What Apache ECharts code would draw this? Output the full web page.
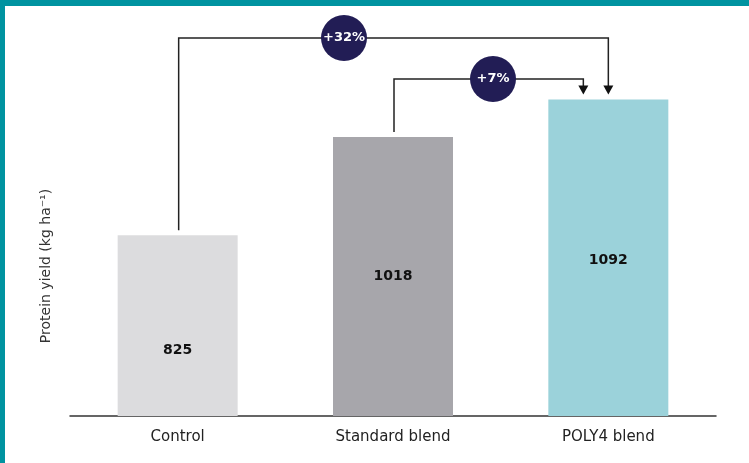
<!DOCTYPE html>
<html>
<head>
<meta charset="utf-8">
<script src="https://cdn.jsdelivr.net/npm/echarts@6/dist/echarts.min.js"></script>
<style>
html, body { margin: 0; padding: 0; background: #fff; }
#chart { width: 749px; height: 463px; }
</style>
</head>
<body>
<div id="chart"></div>
<script>
const categories = ['Control', 'Standard blend', 'POLY4 blend'];
const yieldValues = [825, 1018, 1092];
const barColors = ['#dcdcde', '#a7a6ab', '#9bd2da'];
const increases = [
  { from: 0, to: 2, text: '+32%' },
  { from: 1, to: 2, text: '+7%' }
];

const chartDom = document.getElementById('chart');
const myChart = echarts.init(chartDom);

const option = {
  animation: false,
  grid: { left: 70, right: 33, top: 19, bottom: 47 },
  xAxis: {
    type: 'category',
    data: categories,
    axisTick: { show: false },
    axisLine: { lineStyle: { color: '#333', width: 1.5 } },
    axisLabel: { color: '#222', fontSize: 15, fontFamily: 'DejaVu Sans', margin: 14 }
  },
  yAxis: {
    type: 'value',
    min: 470,
    max: 1250,
    show: false
  },
  series: [{
    type: 'bar',
    barWidth: 120,
    data: yieldValues.map((v, i) => ({
      value: v,
      itemStyle: { color: barColors[i] },
      label: { offset: [0, [25, 0, 3][i]] }
    })),
    label: {
      show: true,
      position: 'inside',
      color: '#111',
      fontWeight: 'bold',
      fontSize: 14,
      fontFamily: 'DejaVu Sans'
    }
  }]
};
myChart.setOption(option);

// brackets drawn from the bar positions
const levels = [38, 79];
const targetShift = [0, -25];
const graphics = [
  { type: 'rect', shape: { x: 0, y: 0, width: 749, height: 6 }, style: { fill: '#0093a0' } },
  { type: 'rect', shape: { x: 0, y: 0, width: 5, height: 463 }, style: { fill: '#0093a0' } },
  {
    type: 'text', x: 46, y: 266, rotation: Math.PI / 2,
    style: { text: 'Protein yield (kg ha⁻¹)', fill: '#333', fontSize: 14, fontFamily: 'DejaVu Sans', align: 'center', verticalAlign: 'middle' }
  }
];
increases.forEach((inc, k) => {
  const start = myChart.convertToPixel({ xAxisIndex: 0, yAxisIndex: 0 }, [inc.from, yieldValues[inc.from]]);
  const end = myChart.convertToPixel({ xAxisIndex: 0, yAxisIndex: 0 }, [inc.to, yieldValues[inc.to]]);
  const y = levels[k];
  const x0 = start[0] + 1;
  const x1 = end[0] + targetShift[k];
  const tipY = end[1] - 5;
  graphics.push({
    type: 'polyline',
    shape: { points: [[x0, start[1] - 5], [x0, y], [x1, y], [x1, tipY - 8]] },
    style: { stroke: '#222', lineWidth: 1.5, fill: null }
  });
  graphics.push({
    type: 'polygon',
    shape: { points: [[x1 - 5, tipY - 9], [x1 + 5, tipY - 9], [x1, tipY]] },
    style: { fill: '#111' }
  });
  const cx = k === 0 ? 344 : 493;
  graphics.push({
    type: 'circle', shape: { cx: cx, cy: y, r: 23 }, style: { fill: '#221d55' }
  });
  graphics.push({
    type: 'text', x: cx, y: y,
    style: { text: inc.text, fill: '#fff', fontSize: 13, fontWeight: 'bold', fontFamily: 'DejaVu Sans', align: 'center', verticalAlign: 'middle' }
  });
});
myChart.setOption({ graphic: graphics });

window.addEventListener('resize', function () {
  myChart.resize();
});
</script>
</body>
</html>
